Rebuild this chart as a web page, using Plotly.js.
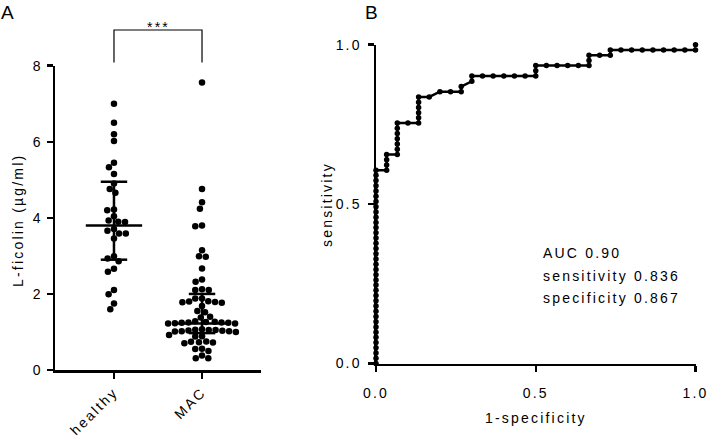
<!DOCTYPE html>
<html>
<head>
<meta charset="utf-8">
<script src="https://cdn.plot.ly/plotly-3.0.1.min.js"></script>
<style>
  html, body { margin: 0; padding: 0; background: #fff; }
  #chart { width: 709px; height: 439px; }
  text { letter-spacing: 2.2px; }
</style>
</head>
<body>
<div id="chart"></div>
<script>
// ---------- data ----------
// Panel A: serum L-ficolin (µg/ml) per subject
const groups = ["healthy", "MAC"];
const healthyVals = [7.0, 6.5, 6.2, 6.02, 5.45, 5.33, 5.15, 4.9, 4.76, 4.66,
  4.22, 4.2, 4.04, 3.93, 3.9, 3.89, 3.71, 3.66, 3.59, 3.59,
  3.46, 2.99, 2.93, 2.86, 2.66, 2.58, 2.1, 1.99, 1.75, 1.6];
const macVals = [7.56, 4.76, 4.41, 4.24, 3.8, 3.78, 3.15, 2.99, 2.98, 2.67,
  2.38, 2.32, 2.12, 2.1, 2.1, 1.88, 1.88, 1.81, 1.79, 1.77,
  1.8, 1.78, 1.68, 1.55, 1.52, 1.4, 1.38, 1.28, 1.27, 1.26,
  1.25, 1.25, 1.24, 1.24, 1.23, 1.22, 1.22, 1.07, 1.06, 1.05,
  1.05, 1.04, 1.03, 1.02, 1.02, 1.01, 1.0, 0.92, 0.89, 0.88,
  0.75, 0.74, 0.73, 0.72, 0.7, 0.56, 0.55, 0.5, 0.38, 0.31, 0.31];
// median with interquartile range, as drawn
const medians = [3.8, 1.22];
const q1 = [2.9, 0.97];
const q3 = [4.95, 2.0];

// Panel B: ROC curve, false positives (of 30 healthy) and true positives (of 61 MAC)
const nHealthy = 30;
const nMAC = 61;
const rocFP = [
  0,0,0,0,0,0,0,0,0,0,0,0,0,0,0,0,0,0,0,0,0,0,0,0,0,0,0,0,0,0,0,0,0,0,0,0,0,0,
  1,1,1,1,
  2,2,2,2,2,2,2,
  3,4,4,4,4,4,4,
  5,6,7,8,8,9,9,
  10,11,12,13,14,15,15,15,
  16,17,18,19,20,20,20,
  21,22,22,
  23,24,25,26,27,28,29,30,30];
const rocTP = [
  0,1,2,3,4,5,6,7,8,9,10,11,12,13,14,15,16,17,18,19,20,21,22,23,24,25,26,27,28,29,30,31,32,33,34,35,36,37,
  37,38,39,40,
  40,41,42,43,44,45,46,
  46,46,47,48,49,50,51,
  51,52,52,52,53,54,55,
  55,55,55,55,55,55,56,57,
  57,57,57,57,57,58,59,
  59,59,60,
  60,60,60,60,60,60,60,60,61];
const rocStats = ["AUC 0.90", "sensitivity 0.836", "specificity 0.867"];

// ---------- geometry (pixels in the 709x439 figure) ----------
const W = 709, H = 439;
const FONT = "Liberation Sans, Arial, sans-serif";
const A = { left: 55, right: 261, top: 65.7, bottom: 370, xr: [-0.67, 1.67], yr: [0, 8] };
const B = { left: 376, right: 695.5, top: 44.7, bottom: 363.5 };
const px = v => v / W;
const py = v => 1 - v / H;
const pxPerX = (A.right - A.left) / (A.xr[1] - A.xr[0]);
const pxPerY = (A.bottom - A.top) / (A.yr[1] - A.yr[0]);
const xToPaper = x => px(A.left + (x - A.xr[0]) * pxPerX);

// simple beeswarm: horizontal pixel offsets so dots do not overlap
function swarm(vals, diam){
  const order = vals.map((v, i) => i).sort((a, b) => vals[b] - vals[a]);
  const placed = [];
  const out = new Array(vals.length);
  order.forEach(i => {
    const y = vals[i] * pxPerY;
    const blocks = placed.filter(p => Math.abs(p.y - y) < diam).map(p => {
      const dx = Math.sqrt(diam * diam - (p.y - y) * (p.y - y));
      return [p.x - dx, p.x + dx];
    });
    const cands = [0];
    blocks.forEach(b => cands.push(b[0], b[1]));
    cands.sort((a, b) => Math.abs(a) - Math.abs(b));
    const x = cands.find(c => blocks.every(b => c <= b[0] + 1e-6 || c >= b[1] - 1e-6));
    placed.push({ x, y });
    out[i] = x;
  });
  return out;
}

function dotTrace(vals, gi){
  const off = swarm(vals, 6.8);
  return {
    x: vals.map((v, i) => gi + off[i] / pxPerX),
    y: vals,
    type: "scatter", mode: "markers",
    marker: { size: 6.5, color: "#000" },
    cliponaxis: false, hoverinfo: "y", xaxis: "x", yaxis: "y"
  };
}

// median + IQR bars
const MED_HALF = 0.32, IQR_HALF = 0.15;
const barX = [], barY = [];
groups.forEach((g, i) => {
  barX.push(i - MED_HALF, i + MED_HALF, null, i - IQR_HALF, i + IQR_HALF, null,
            i - IQR_HALF, i + IQR_HALF, null, i, i, null);
  barY.push(medians[i], medians[i], null, q1[i], q1[i], null,
            q3[i], q3[i], null, q1[i], q3[i], null);
});

const traces = [
  dotTrace(healthyVals, 0),
  dotTrace(macVals, 1),
  {
    x: barX, y: barY, type: "scatter", mode: "lines",
    line: { color: "#000", width: 2.5 }, hoverinfo: "skip", xaxis: "x", yaxis: "y"
  },
  {
    x: rocFP.map(v => v / nHealthy),
    y: rocTP.map(v => v / nMAC),
    type: "scatter", mode: "lines+markers",
    line: { color: "#000", width: 2.5 },
    marker: { size: 5.5, color: "#000" },
    cliponaxis: false, xaxis: "x2", yaxis: "y2"
  }
];

const axisBase = {
  showgrid: false, zeroline: false, showline: true, linecolor: "#000",
  ticks: "outside", tickcolor: "#000", fixedrange: true,
  ticklabeloverflow: "allow",
  tickfont: { family: FONT, size: 14, color: "#000" }
};

const ann = (text, x, y, opts) => Object.assign({
  text, x, y, xref: "paper", yref: "paper", showarrow: false,
  xanchor: "center", yanchor: "middle",
  font: { family: FONT, size: 14, color: "#000" }
}, opts || {});

const bx0 = xToPaper(0), bx1 = xToPaper(1);
const bTop = py(30), bLeg = py(62.5);

const layout = {
  width: W, height: H,
  margin: { l: 0, r: 0, t: 0, b: 0 },
  paper_bgcolor: "#fff", plot_bgcolor: "rgba(0,0,0,0)",
  showlegend: false,
  font: { family: FONT, color: "#000" },
  xaxis: Object.assign({}, axisBase, {
    domain: [px(A.left), px(A.right)], range: A.xr,
    tickvals: [0, 1], ticktext: groups, tickangle: -45,
    linewidth: 2.5, ticklen: 6, tickwidth: 2.5, anchor: "y"
  }),
  yaxis: Object.assign({}, axisBase, {
    domain: [py(A.bottom), py(A.top)], range: A.yr,
    tickvals: [0, 2, 4, 6, 8], linewidth: 2.5, ticklen: 6, tickwidth: 2.5,
    ticklabelstandoff: 1, anchor: "x"
  }),
  xaxis2: Object.assign({}, axisBase, {
    domain: [px(B.left), px(B.right)], range: [0, 1],
    tickvals: [0, 0.5, 1], tickformat: ".1f",
    linewidth: 2.5, ticklen: 6, tickwidth: 2.5, ticklabelstandoff: 9, anchor: "y2"
  }),
  yaxis2: Object.assign({}, axisBase, {
    domain: [py(B.bottom), py(B.top)], range: [0, 1],
    tickvals: [0, 0.5, 1], tickformat: ".1f",
    linewidth: 2.5, ticklen: 6, tickwidth: 2.5, ticklabelstandoff: 3, anchor: "x2"
  }),
  shapes: [{
    type: "path", xref: "paper", yref: "paper",
    path: `M ${bx0} ${bLeg} L ${bx0} ${bTop} L ${bx1} ${bTop} L ${bx1} ${bLeg}`,
    line: { color: "#000", width: 1.2 }
  }],
  annotations: [
    ann("A", px(0), py(0.5), { xanchor: "left", yanchor: "top", borderpad: 0,
      font: { family: FONT, size: 19, color: "#000" } }),
    ann("B", px(364), py(0.5), { xanchor: "left", yanchor: "top", borderpad: 0,
      font: { family: FONT, size: 19, color: "#000" } }),
    ann("***", (bx0 + bx1) / 2, py(27)),
    ann("L-ficolin (µg/ml)", px(18), py(221), { textangle: -90 }),
    ann("sensitivity", px(327), py(205), { textangle: -90 }),
    ann("1-specificity", px(536), py(418)),
    ann(rocStats[0], px(541), py(253), { xanchor: "left" }),
    ann(rocStats[1], px(541), py(275.5), { xanchor: "left" }),
    ann(rocStats[2], px(541), py(298), { xanchor: "left" })
  ]
};

Plotly.newPlot("chart", traces, layout, { displayModeBar: false, staticPlot: true });
</script>
</body>
</html>
